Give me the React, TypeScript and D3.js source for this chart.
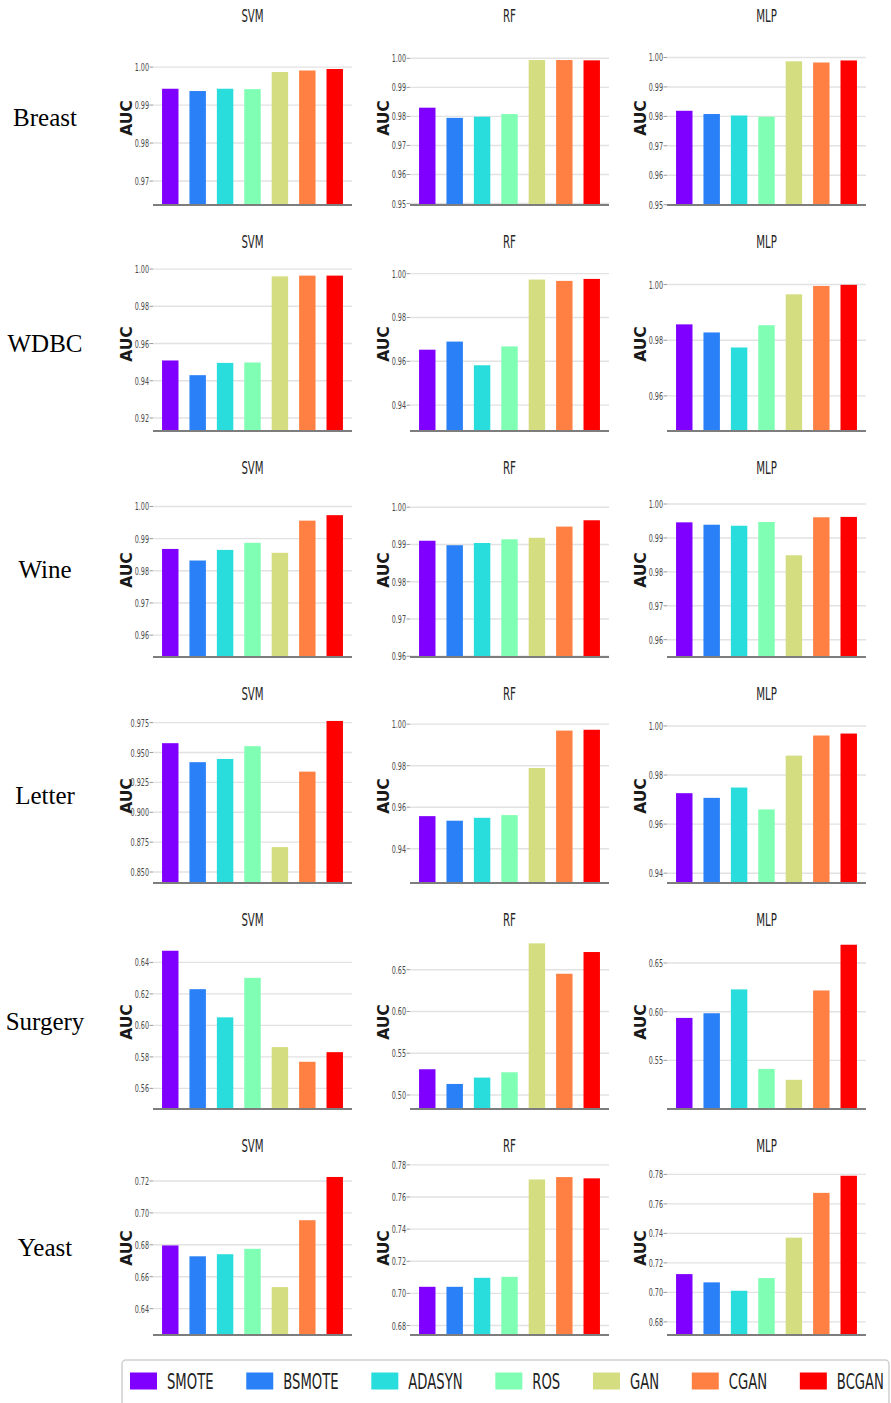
import React from 'react';
import * as d3 from 'd3';

// ---- data -------------------------------------------------------------
const methods = ['SMOTE', 'BSMOTE', 'ADASYN', 'ROS', 'GAN', 'CGAN', 'BCGAN'];
const classifiers = ['SVM', 'RF', 'MLP'];
const datasets = ['Breast', 'WDBC', 'Wine', 'Letter', 'Surgery', 'Yeast'];

// AUC per classifier (SVM, RF, MLP); one value per oversampling method
const breastAUC = [
  [0.9943, 0.9937, 0.9943, 0.9942, 0.9987, 0.9991, 0.9995],
  [0.983, 0.9795, 0.9799, 0.9808, 0.9994, 0.9994, 0.9993],
  [0.9819, 0.9808, 0.9803, 0.9799, 0.9987, 0.9983, 0.999],
];
const wdbcAUC = [
  [0.9509, 0.943, 0.9496, 0.9498, 0.9961, 0.9965, 0.9965],
  [0.9653, 0.969, 0.9582, 0.9668, 0.9973, 0.9967, 0.9976],
  [0.9857, 0.9828, 0.9774, 0.9854, 0.9965, 0.9995, 0.9999],
];
const wineAUC = [
  [0.9868, 0.9832, 0.9865, 0.9887, 0.9856, 0.9956, 0.9973],
  [0.991, 0.9898, 0.9904, 0.9914, 0.9918, 0.9948, 0.9965],
  [0.9946, 0.9939, 0.9936, 0.9947, 0.9849, 0.9961, 0.9962],
];
const letterAUC = [
  [0.9578, 0.9419, 0.9446, 0.9553, 0.8708, 0.934, 0.9764],
  [0.9557, 0.9535, 0.9549, 0.9562, 0.9789, 0.9969, 0.9973],
  [0.9726, 0.9707, 0.9749, 0.966, 0.9879, 0.9961, 0.9969],
];
const surgeryAUC = [
  [0.6474, 0.623, 0.6051, 0.6302, 0.5862, 0.5769, 0.583],
  [0.5308, 0.5132, 0.5208, 0.5272, 0.6816, 0.6452, 0.6712],
  [0.5936, 0.5984, 0.6229, 0.5412, 0.53, 0.6218, 0.6688],
];
const yeastAUC = [
  [0.6796, 0.6728, 0.6741, 0.6775, 0.6535, 0.6954, 0.7225],
  [0.7041, 0.7041, 0.7097, 0.7103, 0.7709, 0.7724, 0.7716],
  [0.7124, 0.7068, 0.7011, 0.7097, 0.7371, 0.7675, 0.7791],
];

// y tick labels per panel
const breastTicks = [
  ['0.97', '0.98', '0.99', '1.00'],
  ['0.95', '0.96', '0.97', '0.98', '0.99', '1.00'],
  ['0.95', '0.96', '0.97', '0.98', '0.99', '1.00'],
];
const wdbcTicks = [
  ['0.92', '0.94', '0.96', '0.98', '1.00'],
  ['0.94', '0.96', '0.98', '1.00'],
  ['0.96', '0.98', '1.00'],
];
const wineTicks = [
  ['0.96', '0.97', '0.98', '0.99', '1.00'],
  ['0.96', '0.97', '0.98', '0.99', '1.00'],
  ['0.96', '0.97', '0.98', '0.99', '1.00'],
];
const letterTicks = [
  ['0.850', '0.875', '0.900', '0.925', '0.950', '0.975'],
  ['0.94', '0.96', '0.98', '1.00'],
  ['0.94', '0.96', '0.98', '1.00'],
];
const surgeryTicks = [
  ['0.56', '0.58', '0.60', '0.62', '0.64'],
  ['0.50', '0.55', '0.60', '0.65'],
  ['0.55', '0.60', '0.65'],
];
const yeastTicks = [
  ['0.64', '0.66', '0.68', '0.70', '0.72'],
  ['0.68', '0.70', '0.72', '0.74', '0.76', '0.78'],
  ['0.68', '0.70', '0.72', '0.74', '0.76', '0.78'],
];

const aucByDataset = [breastAUC, wdbcAUC, wineAUC, letterAUC, surgeryAUC, yeastAUC];
const ticksByDataset = [breastTicks, wdbcTicks, wineTicks, letterTicks, surgeryTicks, yeastTicks];

// ---- style & layout ---------------------------------------------------
const palette = ['#8000ff', '#2a80f6', '#2adddd', '#80ffb4', '#d4dd80', '#ff8042', '#ff0000'];
const W = 891;
const H = 1403;
const colLeft = [153, 410, 667];
const plotW = 199;
const plotH = 174;
const firstBottom = 205;
const rowPitch = 226;
const SQ = 0.6; // horizontal condensation of the sans labels
const SANS = '"DejaVu Sans", "Liberation Sans", sans-serif';

type SqProps = {
  x: number;
  y: number;
  size: number;
  anchor?: 'start' | 'middle' | 'end';
  fill?: string;
  squeeze?: number;
  children: React.ReactNode;
};

function SqText({ x, y, size, anchor = 'middle', fill = '#222', squeeze = SQ, children }: SqProps) {
  return (
    <text
      transform={`translate(${x},${y}) scale(${squeeze},1)`}
      textAnchor={anchor}
      fontSize={size}
      fontFamily={SANS}
      fill={fill}
    >
      {children}
    </text>
  );
}

type PanelProps = { values: number[]; ticks: string[]; title: string; x0: number; bottom: number };

function Panel({ values, ticks, title, x0, bottom }: PanelProps) {
  const x = d3
    .scaleBand<string>()
    .domain(methods)
    .range([x0, x0 + plotW])
    .paddingInner(0.4)
    .paddingOuter(0.33);
  const lo = (d3.min(values) as number) - 0.03;
  const hi = (d3.max(values) as number) + 0.01;
  const y = d3.scaleLinear().domain([lo, hi]).range([bottom, bottom - plotH]);

  return (
    <g>
      <SqText x={x0 + plotW / 2} y={bottom - plotH - 9} size={17} fill="#262626">
        {title}
      </SqText>
      <text
        transform={`translate(${x0 - 21},${bottom - plotH / 2}) rotate(-90)`}
        textAnchor="middle"
        fontSize={15.5}
        fontWeight="bold"
        fontFamily={SANS}
        fill="#1a1a1a"
      >
        AUC
      </text>
      {ticks.map((t) => {
        const ty = y(+t);
        return (
          <g key={t}>
            <line x1={x0} x2={x0 + plotW} y1={ty} y2={ty} stroke="#e2e2e2" strokeWidth={1.4} />
            <line x1={x0 - 3.5} x2={x0} y1={ty} y2={ty} stroke="#9a9a9a" strokeWidth={1} />
            <SqText x={x0 - 4} y={ty + 4} size={11.3} anchor="end" fill="#4a4a4a" squeeze={0.57}>
              {t}
            </SqText>
          </g>
        );
      })}
      {values.map((v, i) => (
        <rect
          key={methods[i]}
          x={x(methods[i])}
          width={x.bandwidth()}
          y={y(v)}
          height={bottom - y(v)}
          fill={palette[i]}
        />
      ))}
      <line x1={x0} x2={x0 + plotW} y1={bottom} y2={bottom} stroke="#7d7d7d" strokeWidth={2} />
    </g>
  );
}

function measure(text: string, size: number): number {
  const ctx = document.createElement('canvas').getContext('2d');
  if (!ctx) return text.length * size * 0.65;
  ctx.font = `${size}px "DejaVu Sans"`;
  return ctx.measureText(text).width;
}

function Legend() {
  const size = 22;
  const left = 130;
  const right = 884;
  const handle = 27;
  const pad = 10;
  const widths = methods.map((m) => measure(m, size) * SQ);
  const used = d3.sum(widths) + methods.length * (handle + pad);
  const gap = (right - left - used) / (methods.length - 1);
  let cx = left;
  const items = methods.map((m, i) => {
    const it = { m, i, x: cx };
    cx += handle + pad + widths[i] + gap;
    return it;
  });
  const cy = 1381;
  return (
    <g>
      <rect x={122} y={1360} width={767} height={46} rx={4} fill="#fff" stroke="#cfcfcf" strokeWidth={1.5} />
      {items.map((it) => (
        <g key={it.m}>
          <rect x={it.x} y={cy - 8.5} width={handle} height={17} fill={palette[it.i]} />
          <SqText x={it.x + handle + pad} y={cy + 8} size={size} anchor="start" fill="#222">
            {it.m}
          </SqText>
        </g>
      ))}
    </g>
  );
}

export default function App() {
  return (
    <div style={{ position: 'absolute', left: 0, top: 0 }}>
      <svg width={W} height={H} style={{ display: 'block', background: '#fff' }}>
        <rect width={W} height={H} fill="#fff" />
        {datasets.map((ds, r) => {
          const bottom = firstBottom + r * rowPitch;
          return (
            <g key={ds}>
              <text
                x={45}
                y={bottom - plotH / 2 + 8}
                textAnchor="middle"
                fontSize={25}
                fontFamily='"Liberation Serif", "Times New Roman", serif'
                fill="#000"
              >
                {ds}
              </text>
              {classifiers.map((c, k) => (
                <Panel
                  key={c}
                  values={aucByDataset[r][k]}
                  ticks={ticksByDataset[r][k]}
                  title={c}
                  x0={colLeft[k]}
                  bottom={bottom}
                />
              ))}
            </g>
          );
        })}
        <Legend />
      </svg>
    </div>
  );
}
